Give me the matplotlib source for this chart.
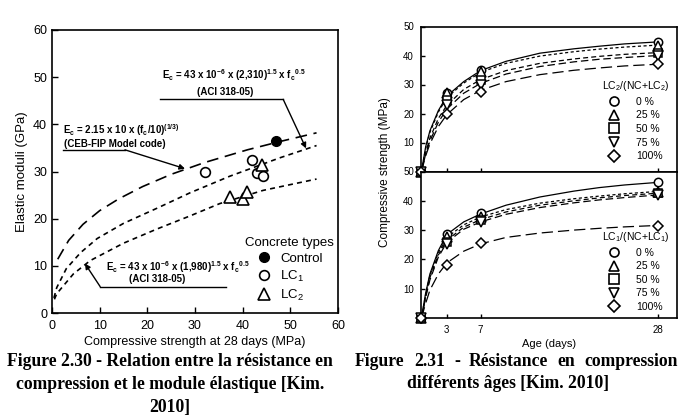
import matplotlib
matplotlib.use("Agg")
import matplotlib.pyplot as plt
from matplotlib.lines import Line2D

plt.rcParams['font.family'] = ['Liberation Sans', 'DejaVu Sans']
plt.rcParams['mathtext.fontset'] = 'custom'
plt.rcParams['mathtext.rm'] = 'Liberation Sans'
plt.rcParams['mathtext.it'] = 'Liberation Sans:italic'
plt.rcParams['mathtext.bf'] = 'Liberation Sans:bold'
plt.rcParams['mathtext.default'] = 'regular'

# Figure 2.30 : Ec vs fc
fc_ctrl = [47.0]
ec_ctrl = [36.5]
fc_lc1 = [32.1, 41.9, 43.0, 44.2]
ec_lc1 = [29.8, 32.4, 29.6, 29.0]
fc_lc2 = [37.3, 40.1, 40.9, 44.0]
ec_lc2 = [24.5, 24.1, 25.7, 31.4]

# courbes
ceb_x = [1.2, 2.0, 3.5, 6.5, 10.0, 14.0, 19.0, 25.0, 32.0, 41.0, 48.0, 55.5]
ceb_y = [11.4, 12.8, 15.4, 18.8, 21.7, 24.2, 26.8, 29.4, 31.9, 34.6, 36.4, 38.2]
aci1_x = [0.4, 1.0, 3.0, 6.0, 9.5, 15.0, 22.0, 29.0, 37.3, 47.8, 55.5]
aci1_y = [3.2, 5.4, 9.4, 12.8, 15.8, 19.0, 22.2, 25.5, 29.0, 32.9, 35.5]
aci2_x = [0.5, 1.0, 4.5, 8.0, 15.0, 22.0, 29.0, 35.2, 44.3, 55.5]
aci2_y = [2.9, 4.1, 8.3, 11.1, 14.8, 17.8, 20.6, 23.2, 26.0, 28.4]

# Figure 2.31 : fc vs age
age_pts = [0, 3, 7, 28]
age_fit = [0, 0.5, 1, 2, 3, 5, 7, 10, 14, 18, 21, 24, 28]
pct_labels = ['0 %', '25 %', '50 %', '75 %', '100%']

lc2_pts = [
    [0, 27.2, 34.9, 44.5],
    [0, 27.0, 34.2, 43.4],
    [0, 24.8, 31.4, 40.9],
    [0, 22.8, 29.7, 40.0],
    [0, 19.8, 27.4, 36.9],
]
lc2_fit = [
    [0, 8.5, 14.0, 21.0, 26.0, 31.0, 34.8, 38.0, 40.8, 42.3, 43.2, 44.0, 44.7],
    [0, 8.0, 13.5, 20.5, 25.5, 30.5, 34.2, 37.3, 39.8, 41.3, 42.2, 42.9, 43.6],
    [0, 6.5, 11.5, 18.3, 22.8, 28.3, 31.7, 34.8, 37.3, 38.8, 39.7, 40.4, 41.0],
    [0, 6.0, 10.5, 17.0, 21.5, 27.0, 30.4, 33.6, 36.2, 37.8, 38.7, 39.3, 40.0],
    [0, 5.4, 9.5, 15.5, 19.6, 24.8, 28.0, 31.0, 33.4, 34.9, 35.7, 36.4, 37.0],
]
lc1_pts = [
    [0, 28.6, 35.9, 46.3],
    [0, 27.7, 34.6, 43.1],
    [0, 26.0, 33.4, 42.6],
    [0, 25.3, 32.7, 42.0],
    [0, 18.1, 25.7, 31.5],
]
lc1_fit = [
    [0, 8.5, 15.0, 23.0, 28.5, 32.8, 35.5, 38.5, 41.3, 43.3, 44.5, 45.4, 46.3],
    [0, 8.0, 14.5, 22.3, 27.5, 31.8, 34.5, 37.0, 39.2, 40.7, 41.6, 42.4, 43.2],
    [0, 7.5, 13.8, 21.5, 26.5, 31.0, 33.6, 36.2, 38.5, 40.0, 41.0, 41.8, 42.6],
    [0, 7.0, 13.0, 20.8, 25.8, 30.3, 32.8, 35.4, 37.7, 39.3, 40.3, 41.1, 42.0],
    [0, 5.0, 9.5, 15.0, 18.8, 22.8, 25.3, 27.5, 29.0, 30.0, 30.6, 31.1, 31.6],
]

W, H = 679, 416


def px(l, t, r, b):
    return [l / W, 1 - b / H, (r - l) / W, (b - t) / H]


fig = plt.figure(figsize=(W / 100, H / 100), dpi=100)

# ---------------- Figure 2.30 ----------------
ax = fig.add_axes(px(52, 30, 338, 313))
ax.plot(ceb_x, ceb_y, color='k', lw=1.2, dashes=(7, 4))
ax.plot(aci1_x, aci1_y, color='k', lw=1.2, dashes=(3, 2.5))
ax.plot(aci2_x, aci2_y, color='k', lw=1.2, dashes=(3, 2.5))
ax.plot(fc_ctrl, ec_ctrl, 'o', color='k', ms=7, ls='none', label='Control')
ax.plot(fc_lc1, ec_lc1, 'o', mfc='white', mec='k', mew=1.2, ms=7, ls='none', label='LC$_1$')
ax.plot(fc_lc2, ec_lc2, '^', mfc='white', mec='k', mew=1.2, ms=8.5, ls='none', label='LC$_2$')
ax.set_xlim(0, 60)
ax.set_ylim(0, 60)
ax.set_xticks(range(0, 61, 10))
ax.set_yticks(range(0, 61, 10))
ax.tick_params(direction='in', labelsize=9, length=4, width=1)
ax.tick_params(axis='x', pad=5)
for s in ax.spines.values():
    s.set_linewidth(1.2)
ax.set_xlabel('Compressive strength at 28 days (MPa)', fontsize=9, labelpad=3)
ax.set_ylabel('Elastic moduli (GPa)', fontsize=9.5, labelpad=4)

arr = dict(arrowstyle='-|>', color='k', lw=1, mutation_scale=8, shrinkA=0, shrinkB=0)
# ACI 318-05 (2,310)
ax.text(38.2, 50.5, r'E$_\mathbf{c}$ = 43 x 10$^\mathbf{-6}$ x (2,310)$^\mathbf{1.5}$ x f$_\mathbf{c}$$^\mathbf{0.5}$',
        fontsize=7, fontweight='bold', ha='center', va='center')
ax.text(36.3, 46.9, '(ACI 318-05)', fontsize=7, fontweight='bold', ha='center', va='center')
ax.plot([22.7, 48.5], [45.3, 45.3], color='k', lw=1)
ax.annotate('', xy=(53.3, 34.9), xytext=(48.5, 45.3), arrowprops=arr)
# CEB-FIP
ax.text(2.4, 38.8, r'E$_\mathbf{c}$ = 2.15 x 10 x (f$_\mathbf{c}$/10)$^\mathbf{(1/3)}$',
        fontsize=7, fontweight='bold', ha='left', va='center')
ax.text(2.6, 35.9, '(CEB-FIP Model code)', fontsize=7, fontweight='bold', ha='left', va='center')
ax.plot([2.4, 15.3], [34.6, 34.6], color='k', lw=1)
ax.annotate('', xy=(27.9, 30.6), xytext=(15.3, 34.6), arrowprops=arr)
# ACI 318-05 (1,980)
ax.text(26.5, 9.8, r'E$_\mathbf{c}$ = 43 x 10$^\mathbf{-6}$ x (1,980)$^\mathbf{1.5}$ x f$_\mathbf{c}$$^\mathbf{0.5}$',
        fontsize=7, fontweight='bold', ha='center', va='center')
ax.text(22.0, 7.3, '(ACI 318-05)', fontsize=7, fontweight='bold', ha='center', va='center')
ax.plot([10.1, 36.6], [5.6, 5.6], color='k', lw=1)
ax.annotate('', xy=(6.9, 10.5), xytext=(10.1, 5.6), arrowprops=arr)

leg = ax.legend(title='Concrete types', loc='lower right', bbox_to_anchor=(0.985, 0.035),
                frameon=False, fontsize=9.5, title_fontsize=9.5, borderpad=0,
                borderaxespad=0, handletextpad=0.6, labelspacing=0.3, handlelength=1.2)

# ---------------- Figure 2.31 ----------------
axT = fig.add_axes(px(421, 26.5, 677, 171.5))
axB = fig.add_axes(px(421, 171.5, 677, 318))
markers = ['o', '^', 's', 'v', 'D']
msizes = [6, 6.5, 6, 6.5, 5.5]
styles = [None, (2.5, 2), (4, 2.5), (6, 3), (9, 4)]

for a, pts, fit, title, anchor in [
        (axT, lc2_pts, lc2_fit, 'LC$_2$/(NC+LC$_2$)', (0.97, 0.07)),
        (axB, lc1_pts, lc1_fit, 'LC$_1$/(NC+LC$_1$)', (0.97, 0.04))]:
    handles = []
    for i in range(5):
        line, = a.plot(age_fit, fit[i], color='k', lw=0.9)
        if styles[i] is not None:
            line.set_dashes(styles[i])
        a.plot(age_pts, pts[i], markers[i], mfc='white', mec='k', mew=1.1,
               ms=msizes[i], ls='none', clip_on=False, zorder=3)
        handles.append(Line2D([], [], marker=markers[i], mfc='white', mec='k', mew=1.2,
                              ms=msizes[i] + 0.5, ls='none'))
    a.set_xlim(-0.05, 30.2)
    a.set_ylim(0, 50)
    a.set_xticks([3, 7, 28])
    a.set_yticks([10, 20, 30, 40, 50])
    a.tick_params(direction='in', labelsize=7, length=3, width=1, pad=5)
    for s in a.spines.values():
        s.set_linewidth(1.2)
    a.legend(handles, pct_labels, title=title, loc='lower right', bbox_to_anchor=anchor,
             frameon=False, fontsize=7.5, title_fontsize=7.5, borderpad=0, borderaxespad=0,
             handletextpad=1.6, labelspacing=0.35, handlelength=1.0)

axT.tick_params(labelbottom=False)
axB.set_xlabel('Age (days)', fontsize=8, labelpad=3)
fig.text(385 / W, 1 - 172 / H, 'Compressive strength (MPa)', rotation=90,
         fontsize=8.5, ha='center', va='center')

# ---------------- légendes des figures ----------------
cap = dict(family=['Liberation Serif', 'DejaVu Serif'], fontweight='bold', fontsize=12.7)
fig.text(170 / W, 1 - 353 / H,
         'Figure 2.30 - Relation entre la résistance en\ncompression et le module élastique [Kim.\n2010]',
         ha='center', va='top', linespacing=1.45, **cap)

# première ligne de la 2.31 justifiée jusqu'au bord de la page
mots = ['Figure', '2.31', '-', 'Résistance', 'en', 'compression']
txts = [fig.text(0, 1 - 353 / H, m, ha='left', va='top', **cap) for m in mots]
fig.canvas.draw()
rend = fig.canvas.get_renderer()
larg = [t.get_window_extent(rend).width for t in txts]
x0, x1 = 355, 678
gap = (x1 - x0 - sum(larg)) / (len(mots) - 1)
x = x0
for t, w in zip(txts, larg):
    t.set_x(x / W)
    x += w + gap
fig.text(508 / W, 1 - 375 / H, 'différents âges [Kim. 2010]', ha='center', va='top', **cap)

fig.savefig('out.png', dpi=100)
